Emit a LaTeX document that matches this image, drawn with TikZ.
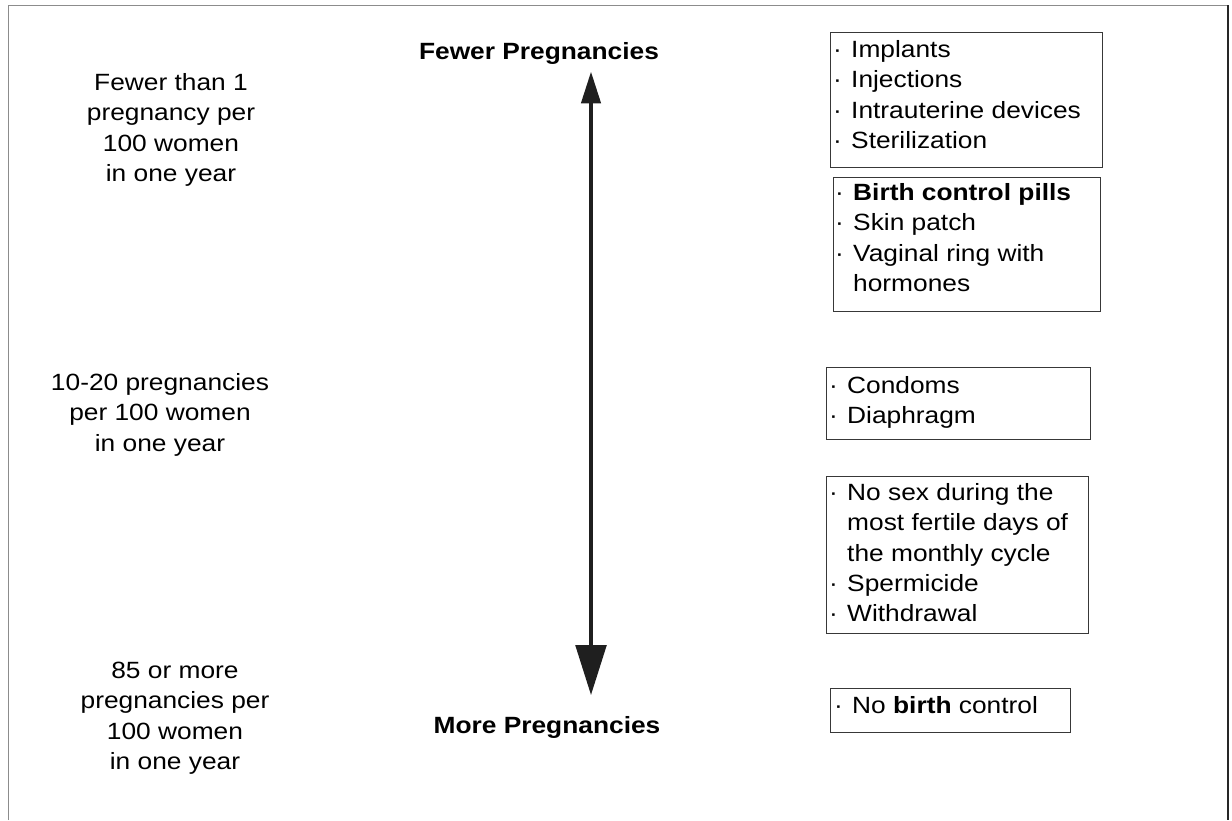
\documentclass[tikz,border=0pt]{standalone}
\usepackage{fontspec}
\setmainfont{Liberation Sans}[FakeStretch=1.12]
\usetikzlibrary{arrows.meta}
\newcommand{\itm}{\llap{·\hspace{9.4pt}}}
\begin{document}
\begin{tikzpicture}[x=1pt,y=-1pt,
  txt/.style={font=\fontsize{23.5}{30.4}\selectfont, inner sep=0pt, text=black},
  listtxt/.style={txt, align=left, anchor=north west},
  sidetxt/.style={txt, align=center, anchor=north},
  boxframe/.style={draw=black!78, line width=1.2pt, inner sep=0pt, anchor=north west},
  axislabel/.style={txt, font=\fontsize{23.5}{30.4}\selectfont\bfseries, anchor=base}]
\useasboundingbox (0,0) rectangle (1232,820);
% outer frame
\draw[black!45, line width=1pt] (8,820) -- (8,5) -- (1228,5);
\draw[black!85, line width=1.6pt] (1228,5) -- (1228,820);
% boxes
\node[boxframe, minimum width=272pt, minimum height=135pt] (box1) at (830,32) {};
\node[boxframe, minimum width=267pt, minimum height=134pt] (box2) at (833,177) {};
\node[boxframe, minimum width=264pt, minimum height=72pt] (box3) at (826,367) {};
\node[boxframe, minimum width=262pt, minimum height=157pt] (box4) at (826,476) {};
\node[boxframe, minimum width=240pt, minimum height=44pt] (box5) at (830,688) {};
% box texts
\node[listtxt] (list1) at (851,37) {\rule{0pt}{20pt}\itm Implants\\ \itm Injections\\ \itm Intrauterine devices\\ \itm Sterilization};
\node[listtxt] (list2) at (853,180) {\rule{0pt}{20pt}\itm \textbf{Birth control pills}\\ \itm Skin patch\\ \itm Vaginal ring with\\ hormones};
\node[listtxt] (list3) at (847,373) {\rule{0pt}{20pt}\itm Condoms\\ \itm Diaphragm};
\node[listtxt] (list4) at (847,480) {\rule{0pt}{20pt}\itm No sex during the\\ most fertile days of\\ the monthly cycle\\ \itm Spermicide\\ \itm Withdrawal};
\node[listtxt] (list5) at (852,693) {\rule{0pt}{20pt}\itm No \textbf{birth} control};
% side texts
\node[sidetxt] (rate1) at (171,70) {\rule{0pt}{20pt}Fewer than 1\\pregnancy per\\100 women\\in one year};
\node[sidetxt] (rate2) at (160,370) {\rule{0pt}{20pt}10-20 pregnancies\\per 100 women\\in one year};
\node[sidetxt] (rate3) at (175,658) {\rule{0pt}{20pt}85 or more\\pregnancies per\\100 women\\in one year};
% axis labels
\node[axislabel] (fewer) at (539,59) {Fewer Pregnancies};
\node[axislabel] (more) at (547,733) {More Pregnancies};
% arrow
\coordinate (top) at (591,71.7);
\coordinate (bot) at (591,695);
\draw[line width=3.4pt, black!88, {Triangle[width=19.3pt,length=31.6pt]}-{Triangle[width=30.7pt,length=50pt]}] (top) -- (bot);
\end{tikzpicture}
\end{document}
